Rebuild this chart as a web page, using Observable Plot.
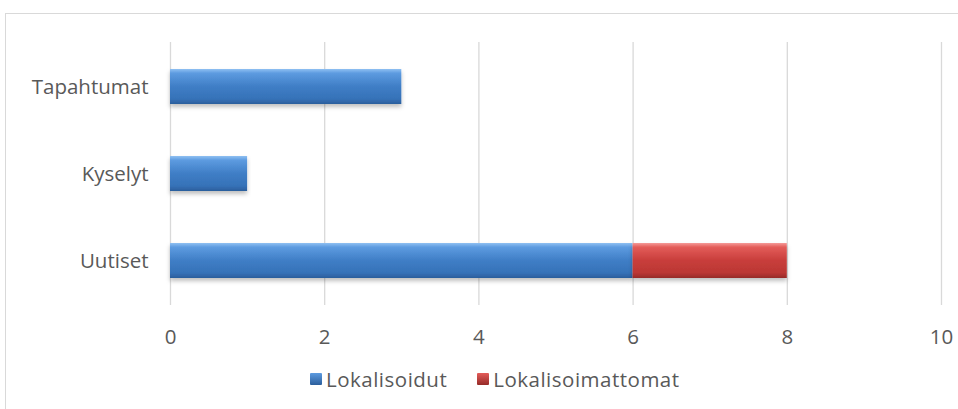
<!DOCTYPE html>
<html><head><meta charset="utf-8">
<script src="https://cdn.jsdelivr.net/npm/d3@7"></script>
<script src="https://cdn.jsdelivr.net/npm/@observablehq/plot@0.6"></script>
<style>
body{margin:0;background:#fff;font-family:"Open Sans",sans-serif;}
#wrap{position:relative;width:958px;height:409px;overflow:hidden;}
#frame{position:absolute;left:5px;top:13px;width:1000px;height:500px;border:1px solid #d9d9d9;box-sizing:border-box;}
#chart{position:absolute;left:0;top:0;}
#legend{position:absolute;top:365px;left:310px;display:flex;align-items:center;font-size:20.5px;letter-spacing:0.5px;color:#595959;font-family:"Open Sans",sans-serif;}
.sw{width:12px;height:12px;display:inline-block;margin-right:4px;border-radius:1px;}
</style></head><body>
<div id="wrap"><div id="frame"></div><div id="chart"></div>
<div id="legend"></div></div>
<script>
const categories = ["Uutiset", "Kyselyt", "Tapahtumat"];
const seriesNames = ["Lokalisoidut", "Lokalisoimattomat"];
const lokalisoidut = [6, 1, 3];
const lokalisoimattomat = [2, 0, 0];
const xTicks = [0, 2, 4, 6, 8, 10];
const colors = ["url(#gBlue)", "url(#gRed)"];

const rows = [];
categories.forEach((c, i) => {
  rows.push({cat: c, series: seriesNames[0], value: lokalisoidut[i]});
  rows.push({cat: c, series: seriesNames[1], value: lokalisoimattomat[i]});
});

const plot = Plot.plot({
  width: 958, height: 409,
  marginLeft: 170, marginRight: 17, marginTop: 42, marginBottom: 104,
  style: {fontFamily: "'Open Sans', sans-serif", fontSize: "20.5px", color: "#595959", background: "transparent"},
  x: {domain: [0, 10], ticks: xTicks, tickSize: 0, tickPadding: 26, label: null},
  y: {domain: [...categories].reverse(), tickSize: 0, tickPadding: 22, label: null, paddingInner: 0.6, paddingOuter: 0.3},
  color: {domain: seriesNames, range: colors},
  marks: [
    Plot.gridX(xTicks, {stroke: "#d9d9d9", strokeOpacity: 1, strokeWidth: 1.3}),
    Plot.barX(rows, Plot.stackX({x: "value", y: "cat", fill: "series", order: seriesNames, filter: d => d.value > 0})),
    Plot.axisX({ticks: xTicks, tickSize: 0, tickPadding: 24, fontSize: 20.5}),
    Plot.axisY({tickSize: 0, tickPadding: 22, fontSize: 20.5})
  ]
});

const ns = "http://www.w3.org/2000/svg";
const defs = document.createElementNS(ns, "defs");
defs.innerHTML = `
<linearGradient id="gBlue" x1="0" y1="0" x2="0" y2="1">
 <stop offset="0" stop-color="#8fc0f2"/><stop offset="0.12" stop-color="#5d9be0"/>
 <stop offset="0.5" stop-color="#3f7ec6"/><stop offset="0.85" stop-color="#3672b8"/><stop offset="1" stop-color="#2b5e9c"/>
</linearGradient>
<linearGradient id="gRed" x1="0" y1="0" x2="0" y2="1">
 <stop offset="0" stop-color="#f59a98"/><stop offset="0.12" stop-color="#e35c59"/>
 <stop offset="0.5" stop-color="#c83e3b"/><stop offset="0.85" stop-color="#bb3734"/><stop offset="1" stop-color="#962b28"/>
</linearGradient>
<filter id="shadow" x="-5%" y="-20%" width="110%" height="160%">
 <feDropShadow dx="0" dy="3" stdDeviation="2" flood-color="#000" flood-opacity="0.25"/>
</filter>`;
plot.insertBefore(defs, plot.firstChild);
plot.querySelectorAll("rect").forEach(r => { if ((r.getAttribute("fill") || "").startsWith("url")) r.setAttribute("filter", "url(#shadow)"); });
document.getElementById("chart").appendChild(plot);

const lg = document.getElementById("legend");
const swCols = [["#5d9be0", "#2b5e9c"], ["#e35c59", "#962b28"]];
seriesNames.forEach((s, i) => {
  const item = document.createElement("span");
  item.style.display = "flex"; item.style.alignItems = "center";
  item.style.marginRight = i === 0 ? "30px" : "0";
  item.innerHTML = `<span class="sw" style="background:linear-gradient(${swCols[i][0]},${swCols[i][1]})"></span>${s}`;
  lg.appendChild(item);
});
</script></body></html>
